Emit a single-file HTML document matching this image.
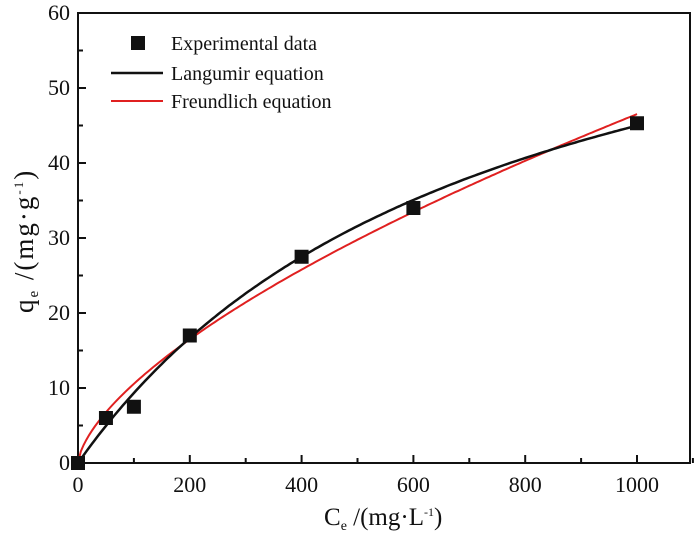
<!DOCTYPE html>
<html><head><meta charset="utf-8"><style>
body{margin:0;background:#fff}
text{font-family:"Liberation Serif",serif;fill:#111}
</style></head><body>
<svg id="chart" width="700" height="537" xmlns="http://www.w3.org/2000/svg">
<rect x="78" y="13" width="612" height="450" fill="none" stroke="#111" stroke-width="2"/>
<g id="axes"></g>
<g id="series"></g>
<g>
<rect x="131" y="36" width="14" height="14" fill="#111"/>
<text x="171" y="50" font-size="20">Experimental data</text>
<line x1="111" y1="73" x2="163" y2="73" stroke="#111" stroke-width="2.5"/>
<text x="171" y="80" font-size="20">Langumir equation</text>
<line x1="111" y1="101" x2="163" y2="101" stroke="#e02020" stroke-width="2"/>
<text x="171" y="108" font-size="20">Freundlich equation</text>
</g>
<text x="324" y="525" font-size="25">C<tspan font-size="14" dy="5">e</tspan><tspan dy="-5"> /(mg·L</tspan><tspan font-size="12" dy="-9">-1</tspan><tspan dy="9">)</tspan></text>
<text transform="translate(33,313) rotate(-90)" font-size="27" letter-spacing="2">q<tspan font-size="15" dy="5">e</tspan><tspan dy="-5"> /(mg·g</tspan><tspan font-size="13" dy="-10">-1</tspan><tspan dy="10">)</tspan></text>
</svg>
<script>
const ceValues=[0,50,100,200,400,600,1000];
const qeValues=[0,6,7.5,17,27.5,34,45.3];
const xTicks=[0,200,400,600,800,1000];
const yTicks=[0,10,20,30,40,50,60];
const langmuirParams=[78.1,0.001358];
const freundlichParams=[0.544,0.644];
const NS="http://www.w3.org/2000/svg";
const X=v=>78+v*0.559, Y=v=>463-v*7.5;
const ax=document.getElementById('axes'), sr=document.getElementById('series');
function mk(p,tag,at){const e=document.createElementNS(NS,tag);for(const k in at)e.setAttribute(k,at[k]);p.appendChild(e);return e;}
xTicks.forEach(t=>{
 const l=mk(ax,'line',{x1:X(t),x2:X(t),y1:463,y2:455,stroke:'#111','stroke-width':2});
 
 
 const m=mk(ax,'line',{x1:X(t+100),x2:X(t+100),y1:463,y2:458,stroke:'#111','stroke-width':2});
 
 
 const tx=mk(ax,'text',{x:X(t),y:492,'font-size':22,'text-anchor':'middle'});tx.textContent=t;
 
 
});
yTicks.forEach(t=>{
 const l=mk(ax,'line',{x1:78,x2:86,y1:Y(t),y2:Y(t),stroke:'#111','stroke-width':2});
 
 
 if(t<60){const m=mk(ax,'line',{x1:78,x2:83,y1:Y(t+5),y2:Y(t+5),stroke:'#111','stroke-width':2});
 
 }
 const tx=mk(ax,'text',{x:70,y:Y(t)+7,'font-size':22,'text-anchor':'end'});tx.textContent=t;
 
 
});
let pl='',pf='';
for(let c=0;c<=1000;c+=5){
 const ql=langmuirParams[0]*langmuirParams[1]*c/(1+langmuirParams[1]*c);
 const qf=freundlichParams[0]*Math.pow(c,freundlichParams[1]);
 pl+=(c?'L':'M')+X(c).toFixed(1)+','+Y(ql).toFixed(1);
 pf+=(c?'L':'M')+X(c).toFixed(1)+','+Y(qf).toFixed(1);
}
const lf=mk(sr,'path',{d:pf,fill:'none',stroke:'#e02020','stroke-width':2});


const ll=mk(sr,'path',{d:pl,fill:'none',stroke:'#111','stroke-width':2.5});


ceValues.forEach((c,i)=>{
 const r=mk(sr,'rect',{x:X(c)-7,y:Y(qeValues[i])-7,width:14,height:14,fill:'#111'});
 
 
});
</script>
</body></html>
